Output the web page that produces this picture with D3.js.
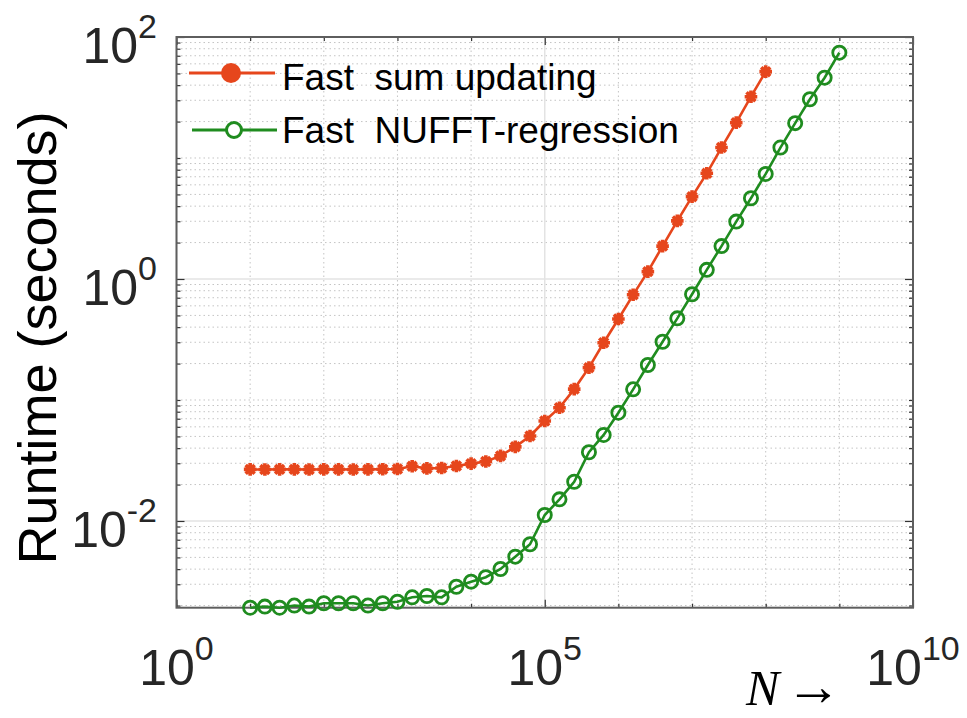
<!DOCTYPE html>
<html><head><meta charset="utf-8">
<script src="https://cdn.jsdelivr.net/npm/d3@7"></script>
<style>body{margin:0;background:#fff}</style>
</head><body><svg id="c" width="967" height="718"></svg>
<script>
// ---- data ----
const logN = [1.0,1.2,1.4,1.6,1.8,2.0,2.2,2.4,2.6,2.8,3.0,3.2,3.4,3.6,3.8,4.0,4.2,4.4,4.6,4.8,
  5.0,5.2,5.4,5.6,5.8,6.0,6.2,6.4,6.6,6.8,7.0,7.2,7.4,7.6,7.8,8.0,8.2,8.4,8.6,8.8,9.0];
const sumUpdating = [0.0267,0.0266,0.0267,0.0267,0.0266,0.0267,0.0267,0.0266,0.0267,0.0268,0.0269,
  0.0283,0.0272,0.0274,0.0285,0.0298,0.031,0.0345,0.041,0.0504,0.067,0.0863,0.123,0.185,0.297,
  0.467,0.74,1.15,1.87,3.02,4.79,7.47,12.2,19.6,32.1,51.7];
const nufftRegression = [0.00192,0.00196,0.00192,0.00200,0.00196,0.00209,0.00209,0.00209,0.00200,
  0.00209,0.00215,0.00234,0.00240,0.00234,0.00286,0.00315,0.00343,0.00401,0.00507,0.00642,
  0.0112,0.0151,0.0211,0.037,0.0514,0.0785,0.1225,0.1945,0.303,0.473,0.748,1.19,1.87,2.98,
  4.65,7.38,12.2,19.4,30.6,46.1,74.2];
const seriesNames = ["Fast  sum updating", "Fast  NUFFT-regression"];
const xTickExps = [0, 5, 10];
const yTickExps = [-2, 0, 2];
const yLabel = "Runtime (seconds)";

// ---- layout ----
const L = 176.5, R = 913, T = 37, B = 607.7;
const red = "#e6461c", green = "#1f8c1f";
const font = "'Liberation Sans', Arial, Helvetica, sans-serif";

const svg = d3.select("#c");
const x = d3.scaleLog().domain([1, 1e10]).range([L, R]);
const y = d3.scaleLog().domain([0.00192, 100]).range([B, T]);

// minor values
const xMinor = d3.range(1, 10).map(e => Math.pow(10, e)).filter(v => !xTickExps.includes(Math.round(Math.log10(v))));
const yMinor = [];
for (let e = -3; e <= 1; e++) for (let m = 1; m <= 9; m++) {
  const v = m * Math.pow(10, e);
  if (v >= 0.00192 && v <= 100 && !(m === 1 && yTickExps.includes(e))) yMinor.push(v);
}
const xMajor = xTickExps.map(e => Math.pow(10, e));
const yMajor = yTickExps.map(e => Math.pow(10, e));

const g = svg.append("g");
// minor grid (dotted)
g.selectAll(".vminor").data(xMinor).enter().append("line")
  .attr("x1", d => x(d)).attr("x2", d => x(d)).attr("y1", T).attr("y2", B)
  .attr("stroke", "#c4c4c4").attr("stroke-width", 1).attr("stroke-dasharray", "1.5,3");
g.selectAll(".hminor").data(yMinor).enter().append("line")
  .attr("y1", d => y(d)).attr("y2", d => y(d)).attr("x1", L).attr("x2", R)
  .attr("stroke", "#c4c4c4").attr("stroke-width", 1).attr("stroke-dasharray", "1.5,3");
// major grid
g.selectAll(".vmajor").data(xMajor).enter().append("line")
  .attr("x1", d => x(d)).attr("x2", d => x(d)).attr("y1", T).attr("y2", B)
  .attr("stroke", "#e3e3e3").attr("stroke-width", 1.5);
g.selectAll(".hmajor").data(yMajor).enter().append("line")
  .attr("y1", d => y(d)).attr("y2", d => y(d)).attr("x1", L).attr("x2", R)
  .attr("stroke", "#e3e3e3").attr("stroke-width", 1.5);

// axes with inward ticks on all four sides
function axisTicks(axisGen, vals, len, transform) {
  const a = svg.append("g").attr("transform", transform)
    .call(axisGen.tickValues(vals).tickSize(len).tickFormat(""));
  a.select(".domain").remove();
  a.selectAll(".tick line").attr("stroke", "#333").attr("stroke-width", 1.2);
}
axisTicks(d3.axisTop(x), xMajor, 8, `translate(0,${B})`);
axisTicks(d3.axisTop(x), xMinor, 4, `translate(0,${B})`);
axisTicks(d3.axisBottom(x), xMajor, 8, `translate(0,${T})`);
axisTicks(d3.axisBottom(x), xMinor, 4, `translate(0,${T})`);
axisTicks(d3.axisRight(y), yMajor, 8, `translate(${L},0)`);
axisTicks(d3.axisRight(y), yMinor, 4, `translate(${L},0)`);
axisTicks(d3.axisLeft(y), yMajor, 8, `translate(${R},0)`);
axisTicks(d3.axisLeft(y), yMinor, 4, `translate(${R},0)`);

svg.append("rect").attr("x", L).attr("y", T).attr("width", R - L).attr("height", B - T)
  .attr("fill", "none").attr("stroke", "#5e5e5e").attr("stroke-width", 2);

// tick labels
function expLabel(sel, base, exp) {
  sel.append("tspan").text(base);
  sel.append("tspan").attr("font-size", 34).attr("dy", -25).text(exp);
}
xTickExps.forEach(e => {
  const t = svg.append("text").attr("x", x(Math.pow(10, e))).attr("y", 685)
    .attr("text-anchor", "middle").attr("font-family", font).attr("font-size", 50).attr("fill", "#262626");
  expLabel(t, "10", String(e));
});
yTickExps.forEach(e => {
  const t = svg.append("text").attr("x", 157).attr("y", y(Math.pow(10, e)) + 26)
    .attr("text-anchor", "end").attr("font-family", font).attr("font-size", 50).attr("fill", "#262626");
  expLabel(t, "10", String(e));
});

// axis labels
svg.append("text").attr("transform", "translate(56,338) rotate(-90)")
  .attr("text-anchor", "middle").attr("font-family", font).attr("font-size", 54).attr("fill", "#000")
  .text(yLabel);
const xl = svg.append("text").attr("x", 746).attr("y", 705)
  .attr("font-family", "'Liberation Serif', 'Times New Roman', serif").attr("font-size", 50).attr("fill", "#000");
xl.append("tspan").attr("font-style", "italic").text("N");
xl.append("tspan").attr("dx", 6).attr("font-size", 56).text("\u2192");

// data lines
const line = d3.line().x(d => x(Math.pow(10, d[0]))).y(d => y(d[1]));
const redData = sumUpdating.map((v, i) => [logN[i], v]);
const greenData = nufftRegression.map((v, i) => [logN[i], v]);

svg.append("path").datum(greenData).attr("d", line).attr("fill", "none")
  .attr("stroke", green).attr("stroke-width", 2.6);
svg.selectAll(".gm").data(greenData).enter().append("circle")
  .attr("cx", d => x(Math.pow(10, d[0]))).attr("cy", d => y(d[1])).attr("r", 6.6)
  .attr("fill", "none").attr("stroke", green).attr("stroke-width", 2.8);

svg.append("path").datum(redData).attr("d", line).attr("fill", "none")
  .attr("stroke", red).attr("stroke-width", 2.6);
const star = (() => {
  const r = 6.3, p = d3.path();
  for (let a = 0; a < 4; a++) {
    const ang = a * Math.PI / 4;
    p.moveTo(-r * Math.cos(ang), -r * Math.sin(ang));
    p.lineTo(r * Math.cos(ang), r * Math.sin(ang));
  }
  return p.toString();
})();
svg.selectAll(".rm").data(redData).enter().append("path")
  .attr("transform", d => `translate(${x(Math.pow(10, d[0]))},${y(d[1])})`)
  .attr("d", star).attr("fill", "none").attr("stroke", red).attr("stroke-width", 3.6);

// legend
const lg = svg.append("g");
lg.append("line").attr("x1", 189).attr("x2", 275).attr("y1", 73).attr("y2", 73).attr("stroke", red).attr("stroke-width", 3);
lg.append("circle").attr("cx", 231).attr("cy", 73).attr("r", 10).attr("fill", red);
lg.append("line").attr("x1", 192).attr("x2", 277).attr("y1", 130).attr("y2", 130).attr("stroke", green).attr("stroke-width", 3);
lg.append("circle").attr("cx", 234).attr("cy", 130).attr("r", 7.5).attr("fill", "#fff").attr("stroke", green).attr("stroke-width", 3);
lg.append("text").attr("x", 282).attr("y", 90).attr("font-family", font).attr("font-size", 37)
  .style("white-space", "pre").attr("fill", "#000").text(seriesNames[0]);
lg.append("text").attr("x", 282).attr("y", 143).attr("font-family", font).attr("font-size", 37)
  .style("white-space", "pre").attr("fill", "#000").text(seriesNames[1]);
</script>
</body></html>
